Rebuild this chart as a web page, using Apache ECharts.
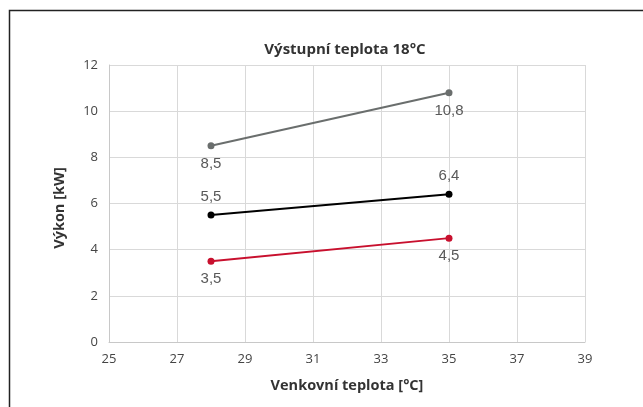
<!DOCTYPE html>
<html><head><meta charset="utf-8">
<script src="https://cdn.jsdelivr.net/npm/echarts@6/dist/echarts.min.js"></script>
<style>html,body{margin:0;padding:0;background:#fff}#c{width:643px;height:407px}</style>
</head><body><div id="c"></div>
<script>
const xValues = [28, 35];
const grayValues = [8.5, 10.8];
const blackValues = [5.5, 6.4];
const redValues = [3.5, 4.5];
const titleText = 'Výstupní teplota 18°C';
const xName = 'Venkovní teplota [°C]';
const yName = 'Výkon [kW]';

const chart = echarts.init(document.getElementById('c'));
const fmt = p => String(p.value[1]).replace('.', ',');
function mk(vals, color, positions) {
  return {
    type: 'line',
    data: vals.map((v, i) => ({value: [xValues[i], v], label: {position: positions[i]}})),
    symbol: 'circle', symbolSize: 7,
    lineStyle: {color: color, width: 2},
    itemStyle: {color: color},
    label: {show: true, formatter: fmt, color: '#595959', fontSize: 15, distance: 7,
      fontFamily: 'Liberation Sans'},
    animation: false
  };
}
chart.setOption({
  animation: false,
  title: {text: titleText, left: 340, top: 37, textAlign: 'center',
    textStyle: {fontSize: 15, fontWeight: 'bold', color: '#333', fontFamily: 'Open Sans'}},
  graphic: [
    {type: 'rect', shape: {x: 9.5, y: 10.5, width: 800, height: 600},
      style: {fill: 'none', stroke: '#222', lineWidth: 1.5}},
    {type: 'text', x: 60, y: 208, rotation: Math.PI / 2,
      style: {text: yName, fontSize: 14.5, fontWeight: 'bold', fill: '#333',
        fontFamily: 'Open Sans', textAlign: 'center', textVerticalAlign: 'middle'}}
  ],
  grid: {left: 109, right: 58, top: 65, bottom: 65},
  xAxis: {type: 'value', min: 25, max: 39, interval: 2,
    name: xName, nameLocation: 'middle', nameGap: 36,
    nameTextStyle: {fontSize: 14.5, fontWeight: 'bold', color: '#333', fontFamily: 'Open Sans'},
    axisLine: {lineStyle: {color: '#c8c8c8'}}, axisTick: {show: false},
    axisLabel: {color: '#444', fontSize: 13, margin: 11, fontFamily: 'Open Sans'},
    splitLine: {show: true, lineStyle: {color: '#d9d9d9'}}},
  yAxis: {type: 'value', min: 0, max: 12, interval: 2,
    axisLine: {show: true, lineStyle: {color: '#c8c8c8'}}, axisTick: {show: false},
    axisLabel: {color: '#444', fontSize: 13, margin: 11, fontFamily: 'Open Sans'},
    splitLine: {show: true, lineStyle: {color: '#d9d9d9'}}},
  series: [
    mk(grayValues, '#6a6e6d', ['bottom', 'bottom']),
    mk(blackValues, '#000000', ['top', 'top']),
    mk(redValues, '#c8102e', ['bottom', 'bottom'])
  ]
});
</script></body></html>
